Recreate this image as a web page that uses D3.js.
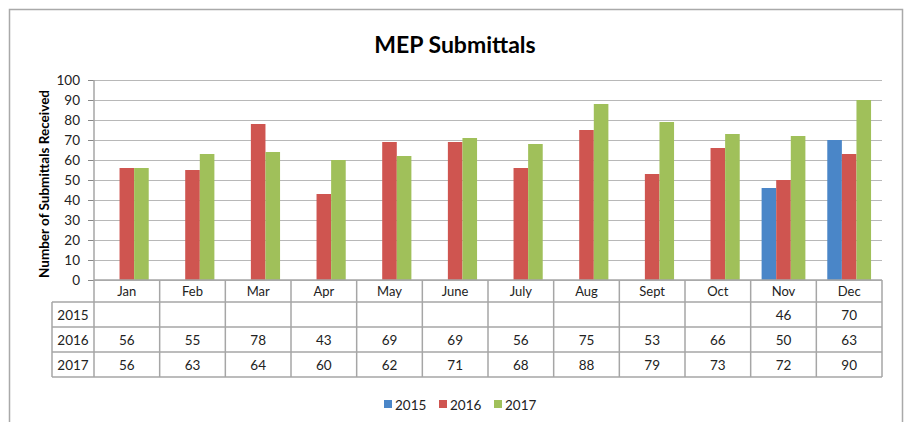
<!DOCTYPE html>
<html>
<head>
<meta charset="utf-8">
<script src="https://cdn.jsdelivr.net/npm/d3@7"></script>
<style>
  body { margin: 0; background: #fff; }
  svg { display: block; font-family: Lato, "Open Sans", sans-serif; }
</style>
</head>
<body>
<svg id="chart" width="906" height="422"></svg>
<script>
// data
var months = ["Jan", "Feb", "Mar", "Apr", "May", "June", "July", "Aug", "Sept", "Oct", "Nov", "Dec"];
var years = ["2015", "2016", "2017"];
var values2015 = [null, null, null, null, null, null, null, null, null, null, 46, 70];
var values2016 = [56, 55, 78, 43, 69, 69, 56, 75, 53, 66, 50, 63];
var values2017 = [56, 63, 64, 60, 62, 71, 68, 88, 79, 73, 72, 90];
var yTicks = [0, 10, 20, 30, 40, 50, 60, 70, 80, 90, 100];
var colors = ["#4a86c8", "#cf5550", "#a0c05a"];

var seriesVals = [values2015, values2016, values2017];
var series = years.map((yr, i) => ({ year: yr, color: colors[i], values: seriesVals[i] }));

var svg = d3.select("#chart");
// note: "top" is taken by window.top, so plot edges get a prefix
var plotL = 94, plotR = 882, plotT = 80, plotB = 280;
var rowH = 25, headH = 22;
var gridColor = "#b8b8b8", tableColor = "#a6a6a6";

// outer frame
svg.append("path")
    .attr("d", "M9.5,423 V9.5 H902.5 V423")
    .attr("fill", "none")
    .attr("stroke", "#a9a9a9")
    .attr("stroke-width", 1.5);

svg.append("text")
    .attr("x", 455).attr("y", 53)
    .attr("text-anchor", "middle")
    .attr("font-size", 23).attr("font-weight", "bold")
    .text("MEP Submittals");

var x = d3.scaleBand().domain(months).range([plotL, plotR]);
var bw = x.bandwidth();
var xs = d3.scaleBand().domain(years).range([bw / 6, bw * 5 / 6]);
var y = d3.scaleLinear().domain([0, 100]).range([plotB, plotT]);

// gridlines
svg.append("g")
    .attr("transform", `translate(${plotL},0)`)
    .call(d3.axisLeft(y).tickValues(yTicks).tickSize(-(plotR - plotL)).tickFormat(""))
    .call(g => g.select(".domain").remove())
    .call(g => g.selectAll("line").attr("stroke", gridColor));

// y axis
var yAxis = svg.append("g")
    .attr("transform", `translate(${plotL},0)`)
    .call(d3.axisLeft(y).tickValues(yTicks).tickSize(6).tickSizeOuter(0).tickPadding(8));
yAxis.select(".domain").remove();
yAxis.selectAll("line").attr("stroke", "#888");
yAxis.selectAll("text").attr("font-size", 13.5).attr("fill", "#222")
    .attr("font-family", "Lato, sans-serif");

svg.append("text")
    .attr("transform", `translate(49,${(plotT + plotB) / 2 + 4}) rotate(-90)`)
    .attr("text-anchor", "middle")
    .attr("font-size", 13.5).attr("font-weight", "bold")
    .text("Number of Submittals Received");

// bars
var groups = svg.append("g").selectAll("g")
    .data(series)
    .join("g")
    .attr("fill", d => d.color);
groups.selectAll("rect")
    .data(d => d.values.map((v, i) => ({ v: v, m: months[i], yr: d.year })).filter(d => d.v != null))
    .join("rect")
    .attr("x", d => x(d.m) + xs(d.yr))
    .attr("width", xs.bandwidth())
    .attr("y", d => y(d.v))
    .attr("height", d => plotB - y(d.v));

// data table
var tbl = svg.append("g").attr("stroke", tableColor).attr("stroke-width", 1.5).attr("fill", "none");
var tableBottom = plotB + headH + rowH * years.length;
tbl.append("line").attr("x1", plotL).attr("x2", plotR).attr("y1", plotB).attr("y2", plotB);
tbl.selectAll(".hl")
    .data(d3.range(years.length + 1))
    .join("line")
    .attr("x1", 52).attr("x2", plotR)
    .attr("y1", i => plotB + headH + i * rowH)
    .attr("y2", i => plotB + headH + i * rowH);
tbl.selectAll(".vl")
    .data(months.concat(["end"]))
    .join("line")
    .attr("x1", d => d === "end" ? plotR : x(d))
    .attr("x2", d => d === "end" ? plotR : x(d))
    .attr("y1", (d, i) => i === 0 ? plotT : plotB)
    .attr("y2", tableBottom);
tbl.append("line").attr("x1", 52).attr("x2", 52).attr("y1", plotB + headH).attr("y2", tableBottom);

svg.append("g").selectAll("text")
    .data(months)
    .join("text")
    .attr("x", d => x(d) + bw / 2)
    .attr("y", plotB + 16)
    .attr("text-anchor", "middle")
    .attr("font-size", 13).attr("fill", "#222")
    .text(d => d);

var rows = svg.append("g").selectAll("g")
    .data(series)
    .join("g")
    .attr("fill", "#222")
    .attr("transform", (d, i) => `translate(0,${plotB + headH + i * rowH + 17.5})`);
rows.append("text")
    .attr("x", 73).attr("text-anchor", "middle").attr("font-size", 13.5)
    .text(d => d.year);
rows.selectAll(".val")
    .data(d => d.values.map((v, i) => ({ v: v, m: months[i] })).filter(d => d.v != null))
    .join("text")
    .attr("x", d => x(d.m) + bw / 2)
    .attr("text-anchor", "middle").attr("font-size", 13.5)
    .text(d => d.v);

// legend
var leg = svg.append("g").selectAll("g")
    .data(series)
    .join("g")
    .attr("transform", (d, i) => `translate(${384 + i * 55},400)`);
leg.append("rect").attr("width", 8).attr("height", 8).attr("fill", d => d.color);
leg.append("text").attr("x", 11).attr("y", 10).attr("font-size", 13.5).attr("fill", "#222").text(d => d.year);
</script>
</body>
</html>
